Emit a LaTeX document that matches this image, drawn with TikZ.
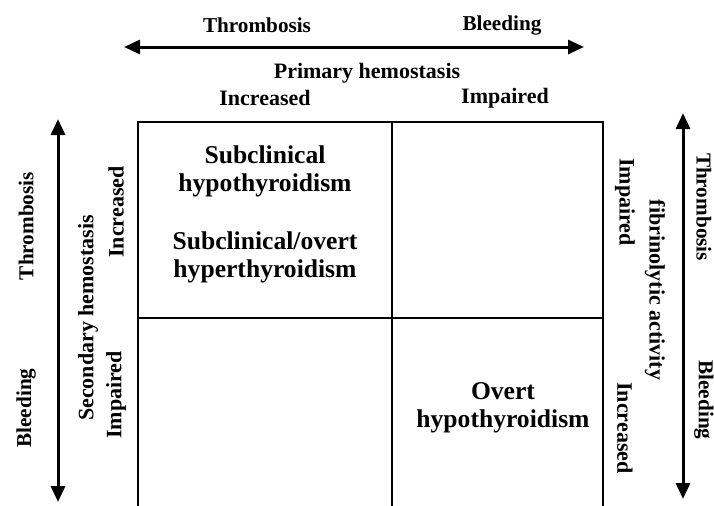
\documentclass[tikz,border=0pt]{standalone}
\usepackage{fontspec}
\setmainfont{Liberation Serif}
\usetikzlibrary{arrows.meta}

\tikzset{
  outer/.style={font=\fontsize{10.6}{12}\selectfont\bfseries},
  inner/.style={font=\fontsize{11}{13}\selectfont\bfseries},
  cell/.style={font=\fontsize{12.8}{14}\selectfont\bfseries, align=center},
  axis/.style={{Triangle[length=8pt,width=7pt]}-{Triangle[length=8pt,width=7pt]}, line width=1.5pt},
}

\begin{document}
\begin{tikzpicture}[x=0.5pt, y=-0.5pt]
\useasboundingbox (0,0) rectangle (714,505);

% grid
\begin{scope}[line width=1.2pt]
\draw (138,510) -- (138,122) -- (603,122) -- (603,510);
\draw (392,122) -- (392,510);
\draw (138,318) -- (603,318);
\end{scope}

% top axis
\node[outer] (tthr) at (257,25) {Thrombosis};
\node[outer] (tble) at (502,25) {Bleeding};
\coordinate (tl) at (124,47);
\coordinate (tr) at (584,47);
\node[inner] (prim) at (367,73) {Primary hemostasis};
\node[inner] (pinc) at (265,98) {Increased};
\node[inner] (pimp) at (505,98) {Impaired};

% left axis
\begin{scope}[every node/.style={rotate=90}]
\node[outer] (lthr) at (26,226) {Thrombosis};
\node[outer] (lble) at (26,408) {Bleeding};
\node[inner] (sec) at (88,318) {Secondary hemostasis};
\node[inner] (sinc) at (116,212) {Increased};
\node[inner] (simp) at (116,395) {Impaired};
\end{scope}
\coordinate (lt) at (58,119);
\coordinate (lb) at (58,502);

% right axis
\begin{scope}[every node/.style={rotate=-90}]
\node[inner] (fimp) at (625,202) {Impaired};
\node[inner] (finc) at (625,428) {Increased};
\node[inner] (fib) at (655,290) {fibrinolytic activity};
\node[outer] (rthr) at (704,207) {Thrombosis};
\node[outer] (rble) at (704,400) {Bleeding};
\end{scope}
\coordinate (rt) at (683,113);
\coordinate (rb) at (683,499);

% cells
\node[cell] (c1) at (265,171) {Subclinical\\hypothyroidism};
\node[cell] (c2) at (265,257) {Subclinical/overt\\hyperthyroidism};
\node[cell] (c3) at (503,408) {Overt\\hypothyroidism};

\draw[axis] (tl) -- (tr);
\draw[axis] (lt) -- (lb);
\draw[axis] (rt) -- (rb);

\end{tikzpicture}
\end{document}
